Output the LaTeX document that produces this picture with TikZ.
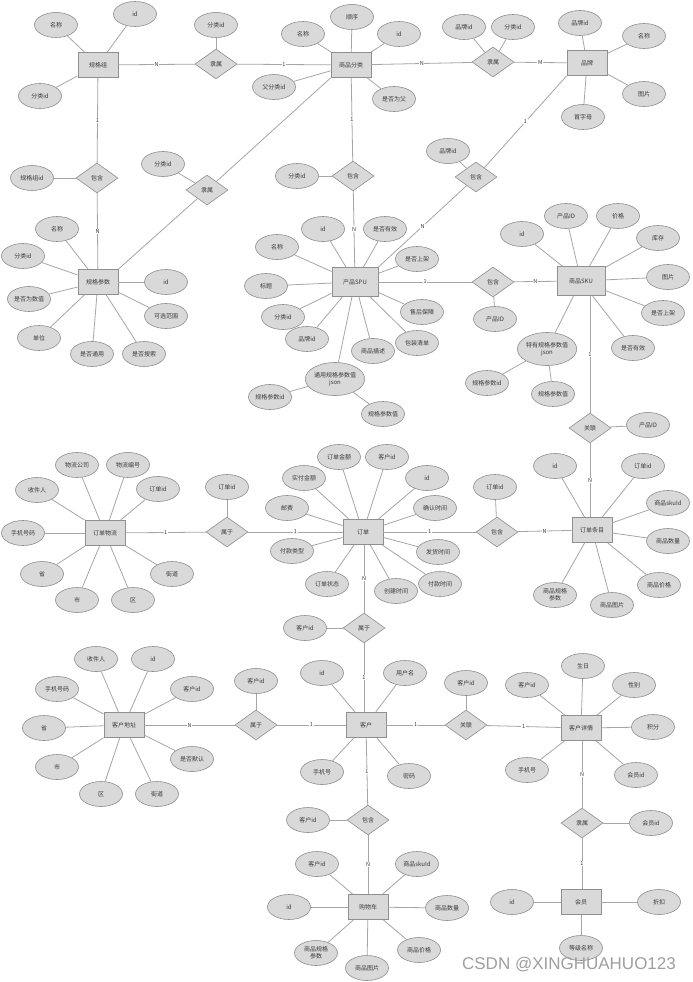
\documentclass[tikz,border=0pt]{standalone}
\usepackage{fontspec}
\newfontfamily\cjk{Noto Sans CJK SC}
\newfontfamily\wmfont{Liberation Sans}
\usetikzlibrary{shapes.geometric}
\definecolor{fillg}{HTML}{D9D9D9}
\definecolor{bord}{HTML}{8F8F8F}
\definecolor{lineg}{HTML}{A6A6A6}
\definecolor{txt}{HTML}{3A3A3A}
\begin{document}
\begin{tikzpicture}[x=1pt,y=-1pt,
 every node/.style={font=\cjk\fontsize{6}{7}\selectfont, text=txt},
 ent/.style={rectangle, draw=bord, fill=fillg, line width=0.9pt, minimum width=40pt, minimum height=25pt, inner sep=1pt},
 attr/.style={ellipse, draw=bord, fill=fillg, line width=0.6pt, minimum width=43pt, minimum height=25pt, inner sep=0pt},
 battr/.style={attr, minimum width=58pt, minimum height=33pt, align=center},
 rel/.style={diamond, draw=bord, fill=fillg, line width=0.6pt, minimum width=42pt, minimum height=30pt, inner sep=0pt},
 conn/.style={draw=lineg, line width=0.8pt},
 lbl/.style={fill=white, inner sep=0.6pt, font=\cjk\fontsize{5.5}{6}\selectfont}
]
\fill[white] (0,0) rectangle (693,982);
\useasboundingbox (0,0) rectangle (693,982);

% ---------- entities ----------
\node[ent] (gg) at (98,65) {规格组};
\node[ent] (fl) at (351,65) {商品分类};
\node[ent] (pp) at (587,63) {品牌};
\node[ent] (gc) at (98,282) {规格参数};
\node[ent, minimum width=46pt, minimum height=29pt] (spu) at (355,282) {产品SPU};
\node[ent, minimum width=48pt, minimum height=29pt] (sku) at (581,281) {商品SKU};
\node[ent] (dw) at (105,533) {订单物流};
\node[ent] (dd) at (363,532) {订单};
\node[ent] (tm) at (592,530) {订单条目};
\node[ent] (ka) at (124,725) {客户地址};
\node[ent] (kh) at (366,725) {客户};
\node[ent] (kx) at (581,728) {客户详情};
\node[ent] (gwc) at (368,907) {购物车};
\node[ent] (hy) at (581,902) {会员};

% ---------- relationships ----------
\node[rel] (r1) at (216,64) {隶属};
\node[rel] (r2) at (97,178) {包含};
\node[rel] (r3) at (207,190) {隶属};
\node[rel] (r4) at (353,176) {包含};
\node[rel] (r5) at (493,62) {隶属};
\node[rel] (r6) at (476,177) {包含};
\node[rel] (r7) at (493,282) {包含};
\node[rel] (r8) at (590,428) {关联};
\node[rel] (r9) at (497,532) {包含};
\node[rel] (r10) at (227,532) {属于};
\node[rel] (r11) at (364,628) {属于};
\node[rel] (r12) at (256,725) {属于};
\node[rel] (r13) at (466,725) {关联};
\node[rel] (r14) at (368,820) {包含};
\node[rel] (r15) at (582,823) {隶属};

% ---------- relationship attributes ----------
\node[attr] (r1a) at (216,25) {分类id};
\node[attr] (r2a) at (32,178) {规格组id};
\node[attr] (r3a) at (163,164) {分类id};
\node[attr] (r4a) at (297,176) {分类id};
\node[attr] (r5a) at (464,27) {品牌id};
\node[attr] (r5b) at (513,27) {分类id};
\node[attr] (r6a) at (448,151) {品牌id};
\node[attr] (r7a) at (495,319) {产品ID};
\node[attr] (r8a) at (648,425) {产品ID};
\node[attr] (r9a) at (495,487) {订单id};
\node[attr] (r10a) at (227,487) {订单id};
\node[attr] (r11a) at (305,628) {客户id};
\node[attr] (r12a) at (256,681) {客户id};
\node[attr] (r13a) at (466,683) {客户id};
\node[attr] (r14a) at (308,820) {客户id};
\node[attr] (r15a) at (651,823) {会员id};

% ---------- entity attributes ----------
% 规格组
\node[attr] (gg1) at (56,25) {名称};
\node[attr] (gg2) at (135,14) {id};
\node[attr] (gg3) at (40,96) {分类id};
% 商品分类
\node[attr] (fl1) at (303,34) {名称};
\node[attr] (fl2) at (352,17) {顺序};
\node[attr] (fl3) at (399,34) {id};
\node[attr] (fl4) at (274,87) {父分类id};
\node[attr] (fl5) at (394,99) {是否为父};
% 品牌
\node[attr] (pp1) at (580,23) {品牌id};
\node[attr] (pp2) at (644,36) {名称};
\node[attr] (pp3) at (644,94) {图片};
\node[attr] (pp4) at (583,117) {首字母};
% 规格参数
\node[attr] (gc1) at (57,229) {名称};
\node[attr] (gc2) at (23,256) {分类id};
\node[attr] (gc3) at (29,299) {是否为数值};
\node[attr] (gc4) at (39,338) {单位};
\node[attr] (gc5) at (92,354) {是否通用};
\node[attr] (gc6) at (144,354) {是否搜索};
\node[attr] (gc7) at (166,316) {可选范围};
\node[attr] (gc8) at (166,282) {id};
% 产品SPU
\node[attr] (s1) at (323,229) {id};
\node[attr] (s2) at (385,229) {是否有效};
\node[attr] (s3) at (277,247) {名称};
\node[attr] (s4) at (417,259) {是否上架};
\node[attr] (s5) at (266,286) {标题};
\node[attr] (s6) at (283,317) {分类id};
\node[attr] (s7) at (307,339) {品牌id};
\node[attr] (s8) at (422,312) {售后保障};
\node[attr] (s9) at (417,343) {包装清单};
\node[attr] (s10) at (373,351) {商品描述};
\node[battr] (s11) at (335,379) {通用规格参数值\\json};
\node[attr] (s12) at (270,397) {规格参数id};
\node[attr] (s13) at (383,414) {规格参数值};
% 商品SKU
\node[attr] (k1) at (522,234) {id};
\node[attr] (k2) at (566,216) {产品ID};
\node[attr] (k3) at (618,216) {价格};
\node[attr] (k4) at (658,238) {库存};
\node[attr] (k5) at (668,277) {图片};
\node[attr] (k6) at (663,313) {是否上架};
\node[attr] (k7) at (633,348) {是否有效};
\node[battr] (k8) at (547,349) {特有规格参数值\\json};
\node[attr] (k9) at (487,383) {规格参数id};
\node[attr] (k10) at (553,394) {规格参数值};
% 订单条目
\node[attr] (t1) at (555,466) {id};
\node[attr] (t2) at (643,466) {订单id};
\node[attr] (t3) at (668,503) {商品skuId};
\node[attr] (t4) at (668,541) {商品数量};
\node[attr] (t5) at (659,585) {商品价格};
\node[attr] (t6) at (612,605) {商品图片};
\node[attr, align=center] (t7) at (555,595) {商品规格\\参数};
% 订单
\node[attr] (d1) at (339,457) {订单金额};
\node[attr] (d2) at (387,457) {客户id};
\node[attr] (d3) at (304,478) {实付金额};
\node[attr] (d4) at (427,478) {id};
\node[attr] (d5) at (287,508) {邮费};
\node[attr] (d6) at (435,508) {确认时间};
\node[attr] (d7) at (292,551) {付款类型};
\node[attr] (d8) at (438,552) {发货时间};
\node[attr] (d9) at (327,584) {订单状态};
\node[attr] (d10) at (396,591) {创建时间};
\node[attr] (d11) at (440,584) {付款时间};
% 订单物流
\node[attr] (w1) at (77,465) {物流公司};
\node[attr] (w2) at (128,465) {物流编号};
\node[attr] (w3) at (37,490) {收件人};
\node[attr] (w4) at (158,489) {订单id};
\node[attr] (w5) at (23,533) {手机号码};
\node[attr] (w6) at (42,574) {省};
\node[attr] (w7) at (77,600) {市};
\node[attr] (w8) at (133,600) {区};
\node[attr] (w9) at (172,574) {街道};
% 客户地址
\node[attr] (a1) at (96,659) {收件人};
\node[attr] (a2) at (153,659) {id};
\node[attr] (a3) at (57,689) {手机号码};
\node[attr] (a4) at (192,689) {客户id};
\node[attr] (a5) at (44,728) {省};
\node[attr] (a6) at (57,767) {市};
\node[attr] (a7) at (192,759) {是否默认};
\node[attr] (a8) at (101,794) {区};
\node[attr] (a9) at (157,794) {街道};
% 客户
\node[attr] (h1) at (322,673) {id};
\node[attr] (h2) at (405,673) {用户名};
\node[attr] (h3) at (322,772) {手机号};
\node[attr] (h4) at (409,776) {密码};
% 客户详情
\node[attr] (x1) at (583,666) {生日};
\node[attr] (x2) at (527,685) {客户id};
\node[attr] (x3) at (634,685) {性别};
\node[attr] (x4) at (653,727) {积分};
\node[attr] (x5) at (527,770) {手机号};
\node[attr] (x6) at (636,775) {会员id};
% 购物车
\node[attr] (c1) at (317,864) {客户id};
\node[attr] (c2) at (417,864) {商品skuId};
\node[attr] (c3) at (289,907) {id};
\node[attr] (c4) at (447,908) {商品数量};
\node[attr, align=center] (c5) at (316,953) {商品规格\\参数};
\node[attr] (c6) at (419,950) {商品价格};
\node[attr] (c7) at (367,968) {商品图片};
% 会员
\node[attr] (y1) at (512,902) {id};
\node[attr] (y2) at (659,902) {折扣};
\node[attr] (y3) at (581,948) {等级名称};

% ---------- attribute connectors ----------
\foreach \a/\b in {gg/gg1,gg/gg2,gg/gg3,
  fl/fl1,fl/fl2,fl/fl3,fl/fl4,fl/fl5,
  pp/pp1,pp/pp2,pp/pp3,pp/pp4,
  gc/gc1,gc/gc2,gc/gc3,gc/gc4,gc/gc5,gc/gc6,gc/gc7,gc/gc8,
  spu/s1,spu/s2,spu/s3,spu/s4,spu/s5,spu/s6,spu/s7,spu/s8,spu/s9,spu/s10,spu/s11,s11/s12,s11/s13,
  sku/k1,sku/k2,sku/k3,sku/k4,sku/k5,sku/k6,sku/k7,sku/k8,k8/k9,k8/k10,
  tm/t1,tm/t2,tm/t3,tm/t4,tm/t5,tm/t6,tm/t7,
  dd/d1,dd/d2,dd/d3,dd/d4,dd/d5,dd/d6,dd/d7,dd/d8,dd/d9,dd/d10,dd/d11,
  dw/w1,dw/w2,dw/w3,dw/w4,dw/w5,dw/w6,dw/w7,dw/w8,dw/w9,
  ka/a1,ka/a2,ka/a3,ka/a4,ka/a5,ka/a6,ka/a7,ka/a8,ka/a9,
  kh/h1,kh/h2,kh/h3,kh/h4,
  kx/x1,kx/x2,kx/x3,kx/x4,kx/x5,kx/x6,
  gwc/c1,gwc/c2,gwc/c3,gwc/c4,gwc/c5,gwc/c6,gwc/c7,
  hy/y1,hy/y2,hy/y3,
  r1/r1a,r2/r2a,r3/r3a,r4/r4a,r5/r5a,r5/r5b,r6/r6a,r7/r7a,r8/r8a,r9/r9a,
  r10/r10a,r11/r11a,r12/r12a,r13/r13a,r14/r14a,r15/r15a}
  \draw[conn] (\a) -- (\b);

% ---------- relationship connectors ----------
\draw[conn] (gg) -- node[lbl]{N} (r1);
\draw[conn] (r1) -- node[lbl]{1} (fl);
\draw[conn] (gg) -- node[lbl]{1} (r2);
\draw[conn] (r2) -- node[lbl]{N} (gc);
\draw[conn] (fl.south west) -- (r3);
\draw[conn] (r3) -- (gc.north east);
\draw[conn] (fl) -- node[lbl]{1} (r4);
\draw[conn] (r4) -- node[lbl]{N} (spu);
\draw[conn] (fl) -- node[lbl]{N} (r5);
\draw[conn] (r5) -- node[lbl]{M} (pp);
\draw[conn] (pp.south west) -- node[lbl]{1} (r6);
\draw[conn] (r6) -- node[lbl]{N} (spu.north east);
\draw[conn] (spu) -- node[lbl]{1} (r7);
\draw[conn] (r7) -- node[lbl]{N} (sku);
\draw[conn] (sku.south -| r8) -- node[lbl]{1} (r8);
\draw[conn] (r8) -- node[lbl]{N} (tm.north -| r8);
\draw[conn] (tm) -- node[lbl]{N} (r9);
\draw[conn] (r9) -- node[lbl]{1} (dd);
\draw[conn] (dd) -- node[lbl]{1} (r10);
\draw[conn] (r10) -- node[lbl]{1} (dw);
\draw[conn] (dd.south -| r11) -- node[lbl]{N} (r11);
\draw[conn] (r11) -- node[lbl]{1} (kh.north -| r11);
\draw[conn] (kh) -- node[lbl]{1} (r12);
\draw[conn] (r12) -- node[lbl]{N} (ka);
\draw[conn] (kh) -- node[lbl]{1} (r13);
\draw[conn] (r13) -- node[lbl]{1} (kx);
\draw[conn] (kh) -- node[lbl]{1} (r14);
\draw[conn] (r14) -- node[lbl]{N} (gwc);
\draw[conn] (kx.south -| r15) -- node[lbl]{N} (r15);
\draw[conn] (r15) -- node[lbl]{1} (hy.north -| r15);

% ---------- watermark ----------
\node[font=\wmfont\fontsize{17}{17}\selectfont, text=gray!75] (wm) at (569,965) {CSDN @XINGHUAHUO123};
\end{tikzpicture}
\end{document}
